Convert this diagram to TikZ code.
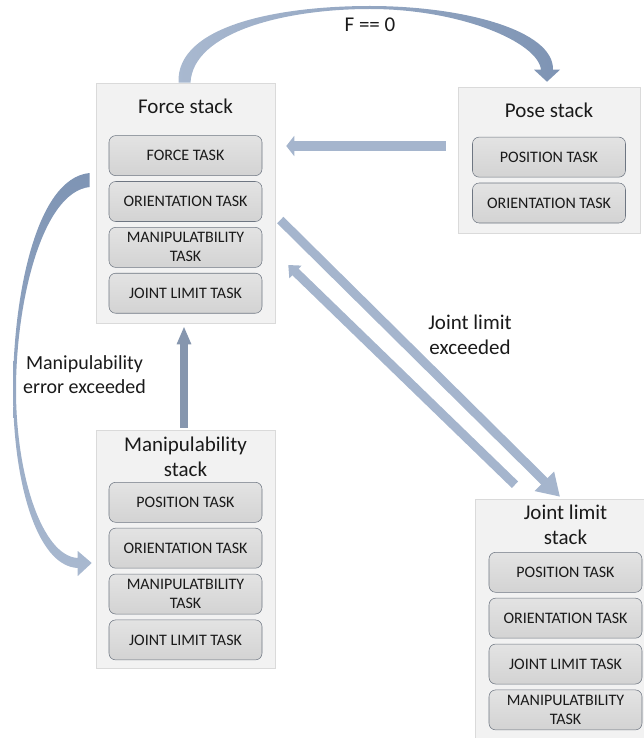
\documentclass[tikz,border=0pt]{standalone}
\usepackage{fontspec}
\setmainfont{Carlito}
\usepackage{xcolor}
\usepackage{tikz}
\usetikzlibrary{arrows.meta,positioning,calc}
\definecolor{Ink}{HTML}{1A1A1A}
\definecolor{StackFill}{HTML}{F2F2F2}
\definecolor{StackLine}{HTML}{DADADA}
\definecolor{TaskTop}{HTML}{E3E3E3}
\definecolor{TaskBottom}{HTML}{D3D3D3}
\definecolor{TaskLine}{HTML}{6E7682}
\definecolor{Flow}{HTML}{A5B5CD}
\definecolor{FlowDark}{HTML}{8696AE}
\definecolor{ArcLight}{HTML}{A9B9D0}
\definecolor{ArcDark}{HTML}{7E94B4}

\begin{document}
\begin{tikzpicture}[x=0.75pt,y=-0.75pt,node distance=4pt]
\tikzset{stackbox/.style={draw=StackLine,fill=StackFill,minimum width=134.25pt,inner sep=0pt},
 stacktitle/.style={inner sep=0pt,align=center,text=Ink,font=\fontsize{15.75}{19}\selectfont},
 taskbox/.style={rounded corners=5pt,draw=TaskLine,top color=TaskTop,bottom color=TaskBottom,minimum width=114.75pt,minimum height=30pt,inner sep=0pt,align=center,text=Ink,font=\fontsize{12}{14.25}\selectfont},
 flow/.style={draw=Flow,line width=6.75pt},
 note/.style={align=center,text=Ink,font=\fontsize{15.75}{19}\selectfont}}
\useasboundingbox (0,0) rectangle (643,738);
\node[stackbox,minimum height=180pt] (force) at (185.5,203) {};
\node[stacktitle] (forcetitle) at ($(force.north)+(0,24)$) {Force stack};
\node[taskbox,below=15.75pt of forcetitle] (forcetask) {FORCE TASK};
\node[taskbox,below=of forcetask] (forceorient) {ORIENTATION TASK};
\node[taskbox,below=of forceorient] (forcemanip) {MANIPULATBILITY\\TASK};
\node[taskbox,below=of forcemanip] (forcejoint) {JOINT LIMIT TASK};
\node[stackbox,minimum width=136.5pt,minimum height=109.5pt] (pose) at (549,160) {};
\node[stacktitle] (posetitle) at ($(pose.north)+(0,23.5)$) {Pose stack};
\node[taskbox,below=14.25pt of posetitle] (poseposition) {POSITION TASK};
\node[taskbox,below=of poseposition] (poseorient) {ORIENTATION TASK};
\node[stackbox,minimum height=178.5pt] (manip) at (185.5,549) {};
\node[stacktitle] (maniptitle) at ($(manip.north)+(0,27)$) {Manipulability\\stack};
\node[taskbox,below=3.75pt of maniptitle] (manipposition) {POSITION TASK};
\node[taskbox,below=of manipposition] (maniporient) {ORIENTATION TASK};
\node[taskbox,below=of maniporient] (manipmanip) {MANIPULATBILITY\\TASK};
\node[taskbox,below=of manipmanip] (manipjoint) {JOINT LIMIT TASK};
\node[stackbox,minimum width=135.75pt,minimum height=187.5pt] (joint) at (565.5,624) {};
\node[stacktitle] (jointtitle) at ($(joint.north)+(0,26)$) {Joint limit\\stack};
\node[taskbox,below=5.25pt of jointtitle] (jointposition) {POSITION TASK};
\node[taskbox,below=of jointposition] (jointorient) {ORIENTATION TASK};
\node[taskbox,below=of jointorient] (jointjoint) {JOINT LIMIT TASK};
\node[taskbox,below=of jointjoint] (jointmanip) {MANIPULATBILITY\\TASK};
\shade[left color=ArcLight,right color=ArcDark] ($(force.north)+(-7,0)$) .. controls (176,25) and (280,6) .. (370,6)
 .. controls (462,6) and (554,30) .. ($(pose.north)+(4,-17)$) -- ($(pose.north)+(11,-17)$) -- ($(pose.north)+(-2,-5)$)
 -- ($(pose.north)+(-15,-17)$) -- ($(pose.north)+(-8,-17)$) .. controls (538,42) and (460,9) .. (370,9)
 .. controls (285,9) and (193,32) .. ($(force.north)+(5,0)$) -- cycle;
\shade[top color=ArcDark,bottom color=ArcLight] ($(force.west)+(-6,-30)$) .. controls (35,178) and (13,300) .. (13,390)
 .. controls (13,480) and (36,566) .. ($(manip.west)+(-18,19)$) -- ($(manip.west)+(-18,27)$) -- ($(manip.west)+(-4,14)$)
 -- ($(manip.west)+(-18,2)$) -- ($(manip.west)+(-18,9)$) .. controls (42,556) and (16,475) .. (16,390)
 .. controls (16,302) and (42,192) .. ($(force.west)+(-6,-16)$) -- cycle;
\draw[flow,line width=7.5pt,-{Triangle[width=15pt,length=6pt]}] ($(pose.west)+(-12,-14)$) -- ($(force.east)+(11,-57)$);
\draw[flow,draw=FlowDark,line width=6pt,-{Triangle[width=10pt,length=13.5pt]}] ($(manip.north)+(-1.5,-2)$) -- ($(force.south)+(-1.5,3)$);
\draw[flow,-{Triangle[width=19.5pt,length=16.5pt]}] ($(force.east)+(5,17)$) -- ($(joint.north)+(-5.5,-2)$);
\draw[flow,-{Triangle[width=12.75pt,length=7.5pt]}] ($(joint.north)+(-50.5,-14)$) -- ($(force.east)+(13,62)$);
\node[note] (fzero) at (370,25) {F == 0};
\node[note,font=\fontsize{15}{18.5}\selectfont] (maniplabel) at (84.5,374.5) {Manipulability\\error exceeded};
\node[note] (jointlabel) at (470,335) {Joint limit\\exceeded};
\end{tikzpicture}
\end{document}
